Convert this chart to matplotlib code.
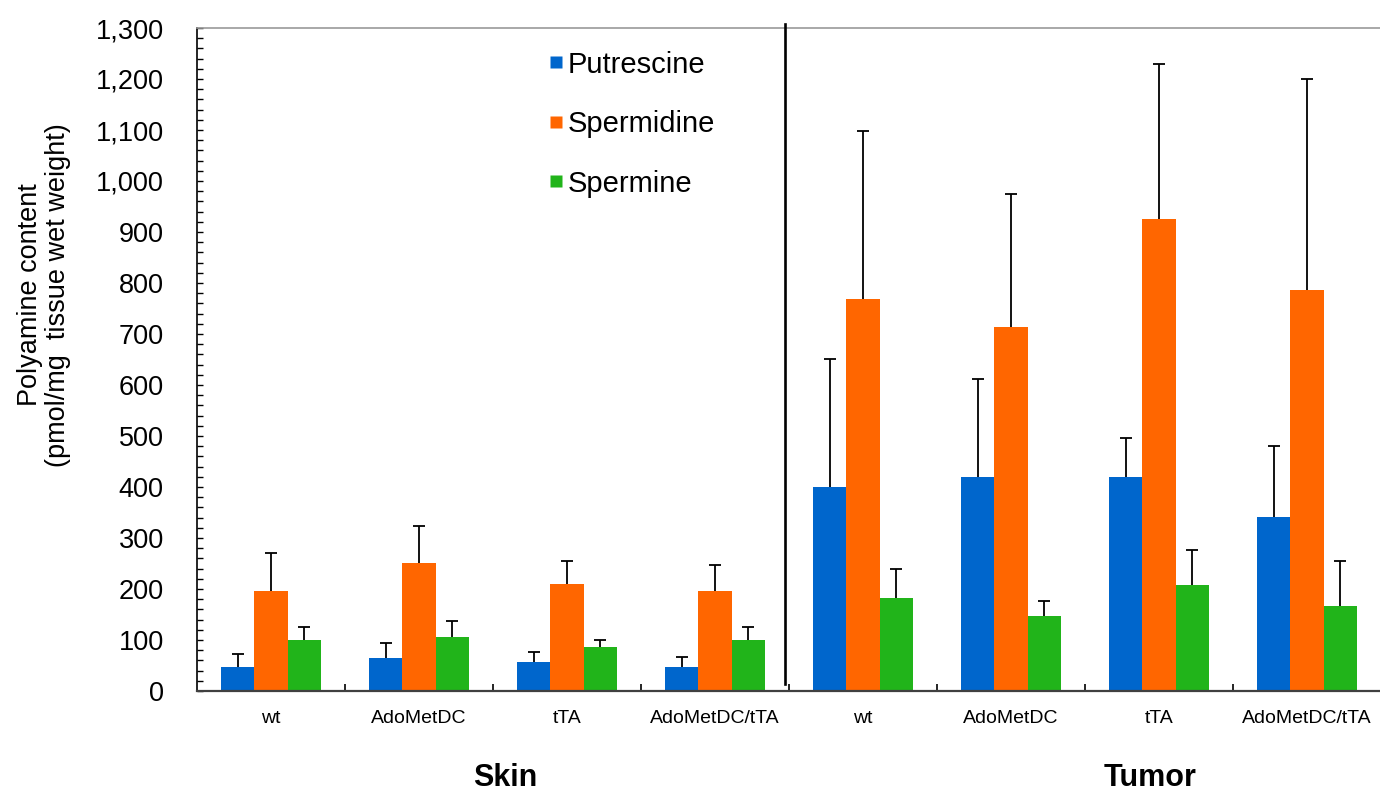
import numpy as np
import matplotlib.pyplot as plt
from matplotlib.ticker import MultipleLocator, FuncFormatter
from matplotlib.lines import Line2D

plt.rcParams['font.family'] = ['Liberation Sans', 'DejaVu Sans']

# polyamine levels (pmol/mg tissue wet weight), skin groups then tumor groups
groups = ['wt', 'AdoMetDC', 'tTA', 'AdoMetDC/tTA',
          'wt', 'AdoMetDC', 'tTA', 'AdoMetDC/tTA']
putrescine = [47, 65, 57, 47, 400, 420, 420, 341]
putrescine_err = [26, 29, 20, 20, 251, 192, 76, 139]
spermidine = [196, 251, 210, 196, 769, 714, 925, 786]
spermidine_err = [75, 73, 45, 51, 329, 261, 304, 414]
spermine = [100, 106, 86, 100, 182, 147, 208, 167]
spermine_err = [25, 31, 14, 25, 57, 29, 68, 88]

names = ['Putrescine', 'Spermidine', 'Spermine']
colors = ['#0066CC', '#FF6600', '#21B41A']

fig = plt.figure(figsize=(13.8, 7.93), dpi=100)
ax = fig.add_axes([197 / 1380, 1 - 691 / 793, 1184 / 1380, 663 / 793])

x = np.arange(len(groups))
w = 0.223
series = [(putrescine, putrescine_err), (spermidine, spermidine_err),
          (spermine, spermine_err)]
for k, (vals, errs) in enumerate(series):
    pos = x + (k - 1) * w
    ax.bar(pos, vals, width=w, color=colors[k], edgecolor='none', zorder=2)
    eb = ax.errorbar(pos, vals, yerr=[np.zeros(len(errs)), errs], fmt='none',
                     ecolor='black', elinewidth=1.3, capsize=4.5,
                     capthick=1.3, zorder=3)
    # only the upper cap is drawn
    eb[1][0].set_visible(False)

ax.set_xlim(-0.5, 7.5)
ax.set_ylim(0, 1300)

# y axis: labels every 100, inward ticks every 20
ax.yaxis.set_major_locator(MultipleLocator(100))
ax.yaxis.set_minor_locator(MultipleLocator(20))
ax.yaxis.set_major_formatter(FuncFormatter(lambda v, p: f'{int(v):,}'))
ax.tick_params(axis='y', which='both', direction='in', length=4.5,
               width=1, labelsize=19.5, pad=24, right=False)

# x axis: group names centred, small ticks between groups
ax.set_xticks(x)
ax.set_xticklabels(groups)
ax.set_xticks(x[:-1] + 0.5, minor=True)
ax.tick_params(axis='x', which='major', length=0, labelsize=14, pad=14)
ax.tick_params(axis='x', which='minor', direction='in', length=5,
               width=1.2, top=False)

ax.spines['right'].set_visible(False)
ax.spines['top'].set_color('#999999')
ax.spines['top'].set_linewidth(1.2)
ax.spines['left'].set_color('black')
ax.spines['left'].set_linewidth(1.2)
ax.spines['bottom'].set_color('#404040')
ax.spines['bottom'].set_linewidth(1.6)

# divider between skin and tumor samples
ax.axvline(3.47, ymin=0.011, ymax=1.006, color='black', lw=1.9,
           clip_on=False, zorder=4)

handles = [Line2D([], [], marker='s', linestyle='none', markersize=9,
                  markerfacecolor=c, markeredgecolor='none') for c in colors]
ax.legend(handles, names, loc='upper left', bbox_to_anchor=(0.284, 0.988),
          frameon=False, fontsize=21, handlelength=0.55, handletextpad=0.12,
          labelspacing=1.08, borderpad=0)

fig.text(44 / 1380, 1 - 295 / 793,
         'Polyamine content\n(pmol/mg  tissue wet weight)',
         rotation=90, ha='center', va='center', fontsize=19.5,
         linespacing=1.12)
fig.text(505 / 1380, 1 - 778 / 793, 'Skin', ha='center', va='center',
         fontsize=22, fontweight='bold')
fig.text(1150 / 1380, 1 - 778 / 793, 'Tumor', ha='center', va='center',
         fontsize=22, fontweight='bold')

fig.savefig('out.png', dpi=100)
